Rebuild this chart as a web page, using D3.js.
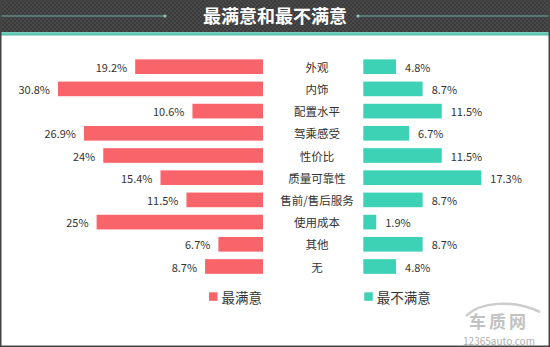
<!DOCTYPE html>
<html><head><meta charset="utf-8">
<script src="https://cdn.jsdelivr.net/npm/d3@7"></script>
<style>
html,body{margin:0;padding:0;background:#fff;}
svg{display:block;font-family:"Noto Sans CJK SC","Noto Sans",sans-serif;}
</style></head>
<body>
<svg id="chart" width="550" height="347"></svg>
<script>
const title = "最满意和最不满意";
const categories = ["外观","内饰","配置水平","驾乘感受","性价比","质量可靠性","售前/售后服务","使用成本","其他","无"];
const satisfied = [19.2,30.8,10.6,26.9,24,15.4,11.5,25,6.7,8.7];
const dissatisfied = [4.8,8.7,11.5,6.7,11.5,17.3,8.7,1.9,8.7,4.8];
const seriesNames = ["最满意","最不满意"];
const colors = ["#F9646A","#3DD2B5"];

const svg = d3.select("#chart");
const W = 550, H = 347;

// header pattern
const defs = svg.append("defs");
const pat = defs.append("pattern").attr("id","chk").attr("width",4).attr("height",4).attr("patternUnits","userSpaceOnUse");
pat.append("rect").attr("width",4).attr("height",4).attr("fill","#3b3b3b");
pat.append("rect").attr("width",2).attr("height",2).attr("fill","#4a4a4a");
pat.append("rect").attr("x",2).attr("y",2).attr("width",2).attr("height",2).attr("fill","#4a4a4a");
const grad = defs.append("linearGradient").attr("id","tealg").attr("x1",0).attr("x2",0).attr("y1",0).attr("y2",1);
grad.append("stop").attr("offset","0%").attr("stop-color","#7fd3c2");
grad.append("stop").attr("offset","100%").attr("stop-color","#4dbba6");

svg.append("rect").attr("width",W).attr("height",H).attr("fill","#fff");
svg.append("rect").attr("width",W).attr("height",32).attr("fill","url(#chk)");
svg.append("rect").attr("y",32).attr("width",W).attr("height",3.5).attr("fill","url(#tealg)");

// header lines
svg.append("line").attr("x1",0).attr("x2",165).attr("y1",16).attr("y2",16).attr("stroke","#6fa9a2").attr("stroke-width",1.2);
svg.append("line").attr("x1",357).attr("x2",W).attr("y1",16).attr("y2",16).attr("stroke","#6fa9a2").attr("stroke-width",1.2);
svg.append("circle").attr("cx",165).attr("cy",16).attr("r",1.6).attr("fill","#8cc7bf");
svg.append("circle").attr("cx",358).attr("cy",16).attr("r",1.6).attr("fill","#8cc7bf");
svg.append("text").attr("x",275).attr("y",18).attr("text-anchor","middle").attr("dominant-baseline","middle")
  .attr("fill","#fff").attr("font-size",18).attr("font-weight","bold").text(title);

// scales
const y = d3.scaleBand().domain(categories).range([55.6,277.6]).paddingInner(0.34).paddingOuter(0.17);
const leftEnd = 263, rightStart = 363.3, centerX = 317;
const xl = d3.scaleLinear().domain([0,30.8]).range([0,205]);
const xr = d3.scaleLinear().domain([0,17.3]).range([0,118]);

const g = svg.append("g");
g.selectAll("rect.l").data(satisfied).join("rect").attr("class","l")
  .attr("x",d=>leftEnd - xl(d)).attr("y",(d,i)=>y(categories[i]))
  .attr("width",d=>xl(d)).attr("height",y.bandwidth()).attr("fill",colors[0]);
g.selectAll("text.lv").data(satisfied).join("text").attr("class","lv")
  .attr("x",d=>leftEnd - xl(d) - 8).attr("y",(d,i)=>y(categories[i])+y.bandwidth()/2)
  .attr("text-anchor","end").attr("dominant-baseline","central")
  .attr("font-size",11).attr("fill","#333").text(d=>d+"%");

g.selectAll("rect.r").data(dissatisfied).join("rect").attr("class","r")
  .attr("x",rightStart).attr("y",(d,i)=>y(categories[i]))
  .attr("width",d=>xr(d)).attr("height",y.bandwidth()).attr("fill",colors[1]);
g.selectAll("text.rv").data(dissatisfied).join("text").attr("class","rv")
  .attr("x",d=>rightStart + xr(d) + 9).attr("y",(d,i)=>y(categories[i])+y.bandwidth()/2)
  .attr("text-anchor","start").attr("dominant-baseline","central")
  .attr("font-size",11).attr("fill","#333").text(d=>d+"%");

g.selectAll("text.cat").data(categories).join("text").attr("class","cat")
  .attr("x",centerX).attr("y",d=>y(d)+y.bandwidth()/2)
  .attr("text-anchor","middle").attr("dominant-baseline","central")
  .attr("font-size",11.5).attr("fill","#333").text(d=>d);

// legend
const legX = [209,364.3];
seriesNames.forEach((n,i)=>{
  svg.append("rect").attr("x",legX[i]).attr("y",292.3).attr("width",8.5).attr("height",8.5).attr("fill",colors[i]);
  svg.append("text").attr("x",legX[i]+12.5).attr("y",297).attr("dominant-baseline","central")
    .attr("font-size",13.5).attr("fill","#333").text(n);
});

// watermark
svg.append("path").attr("d","M466,316 C480,302 512,299 540,312").attr("fill","none").attr("stroke","#cccccc").attr("stroke-width",2.5);
svg.append("text").attr("x",499).attr("y",320).attr("text-anchor","middle").attr("dominant-baseline","central")
  .attr("font-size",17).attr("font-weight","bold").attr("fill","#c2c2c2").attr("letter-spacing",3).text("车质网");
svg.append("text").attr("x",499).attr("y",340).attr("text-anchor","middle").attr("dominant-baseline","central")
  .attr("font-size",10).attr("fill","#b0b0b0").text("12365auto.com");

// border
svg.append("rect").attr("x",0.75).attr("y",0).attr("width",W-1.5).attr("height",H-0.75)
  .attr("fill","none").attr("stroke","#444").attr("stroke-width",1.5);
</script>
</body></html>
